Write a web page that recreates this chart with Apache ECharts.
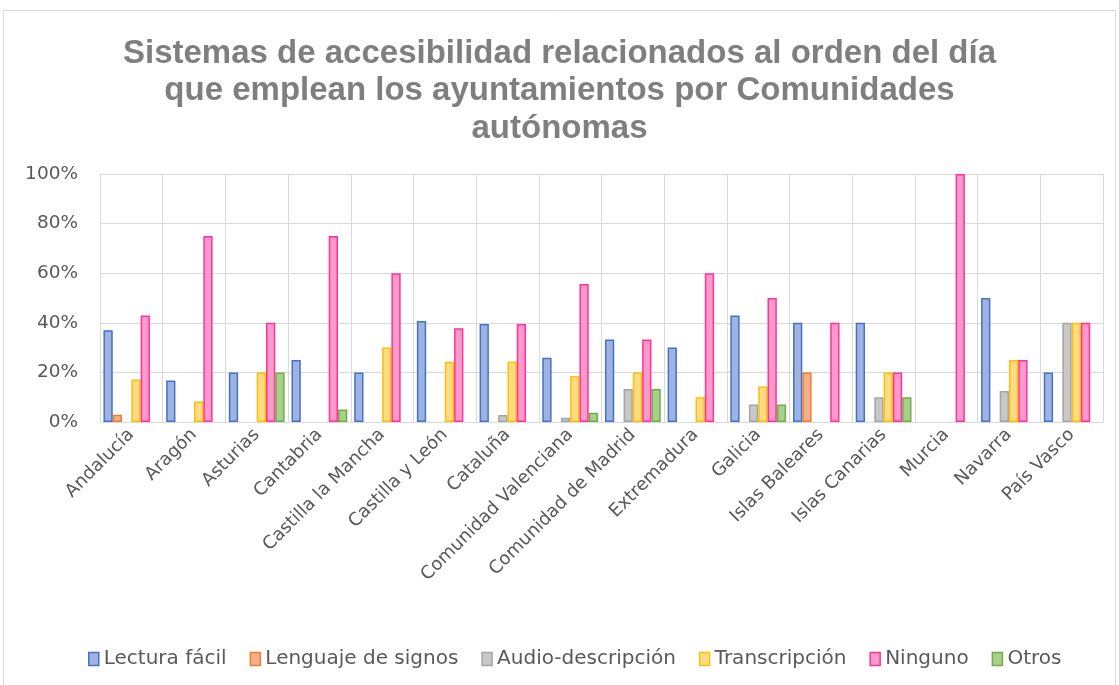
<!DOCTYPE html>
<html>
<head>
<meta charset="utf-8">
<script src="https://cdn.jsdelivr.net/npm/echarts@6/dist/echarts.min.js"></script>
<style>html,body{margin:0;padding:0;background:#fff}#c{width:1119px;height:685px}</style>
</head>
<body>
<div id="c"></div>
<script>
var categories = ["Andalucía","Aragón","Asturias","Cantabria","Castilla la Mancha","Castilla y León","Cataluña","Comunidad Valenciana","Comunidad de Madrid","Extremadura","Galicia","Islas Baleares","Islas Canarias","Murcia","Navarra","País Vasco"];
var seriesNames = ["Lectura fácil","Lenguaje de signos","Audio-descripción","Transcripción","Ninguno","Otros"];
var lecturaFacil   = [37, 16.7, 20, 25, 20, 40.7, 39.5, 25.9, 33.3, 30, 42.9, 40, 40, 0, 50, 20];
var lenguajeSignos = [2.9, 0, 0, 0, 0, 0, 0, 0, 0, 0, 0, 20, 0, 0, 0, 0];
var audioDesc      = [0, 0, 0, 0, 0, 0, 2.8, 1.7, 13.3, 0, 7.1, 0, 10, 0, 12.5, 40];
var transcripcion  = [17.1, 8.3, 20, 0, 30, 24.3, 24.3, 18.5, 20, 10, 14.3, 0, 20, 0, 25, 40];
var ninguno        = [42.9, 75, 40, 75, 60, 37.8, 39.5, 55.6, 33.3, 60, 50, 40, 20, 100, 25, 40];
var otros          = [0, 0, 20, 5, 0, 0, 0, 3.7, 13.3, 0, 7.1, 0, 10, 0, 0, 0];
var yTicks = [0, 20, 40, 60, 80, 100];

var values = [lecturaFacil, lenguajeSignos, audioDesc, transcripcion, ninguno, otros];
var fills   = ["#9fb3e2", "#f5b08a", "#c8c8c8", "#ffdb85", "#ff9acb", "#a8d08d"];
var borders = ["#4472c4", "#ed7d31", "#a5a5a5", "#ffc000", "#ff3399", "#70ad47"];
var txtFont = 'DejaVu Sans, sans-serif';

var chart = echarts.init(document.getElementById('c'), null, {renderer:'canvas'});
var series = seriesNames.map(function(n, i){
  return {
    name: n, type: 'bar',
    data: values[i].map(function(v){ return v === 0 ? {value: 0, itemStyle:{borderWidth:0, opacity:0}} : v; }),
    barGap: '0%', barCategoryGap: '11%',
    itemStyle: {color: fills[i], borderColor: borders[i], borderWidth: 1.5}
  };
});
chart.setOption({
  animation: false,
  backgroundColor: '#fff',
  graphic: [{type:'rect', shape:{x:3.5, y:10.5, width:1112, height:680}, style:{fill:'none', stroke:'#d9d9d9', lineWidth:1}, silent:true, z:-1}],
  title: {
    text: 'Sistemas de accesibilidad relacionados al orden del día\nque emplean los ayuntamientos por Comunidades\nautónomas',
    left: 'center', top: 30,
    textStyle: {fontFamily:'Liberation Sans, Arial, sans-serif', fontSize: 33, fontWeight:'bold', color:'#7f7f7f', lineHeight: 37.5}
  },
  legend: {
    top: 644, left: 83,
    itemWidth: 10, itemHeight: 13, itemGap: 23,
    textStyle: {fontFamily: txtFont, fontSize: 20, color:'#595959'},
    data: seriesNames.map(function(n,i){return {name:n, icon:'rect', itemStyle:{color:fills[i], borderColor:borders[i], borderWidth:1.5}};})
  },
  grid: {left: 100, right: 16, top: 174, bottom: 263, containLabel: false},
  xAxis: {
    type: 'category', data: categories,
    axisLine: {show: true, lineStyle:{color:'#d9d9d9', width:1}},
    axisTick: {show: false},
    splitLine: {show: true, lineStyle:{color:'#d9d9d9', width:1}},
    axisLabel: {interval: 0, rotate: 45, fontFamily: txtFont, fontSize: 18, color:'#595959', margin: 10}
  },
  yAxis: {
    type: 'value', min: 0, max: 100, interval: 20,
    axisLine: {show: false}, axisTick: {show: false},
    splitLine: {lineStyle:{color:'#d9d9d9', width:1}},
    axisLabel: {formatter: '{value}%', fontFamily: txtFont, fontSize: 18.5, color:'#595959', margin: 22}
  },
  series: series
});
</script>
</body>
</html>
